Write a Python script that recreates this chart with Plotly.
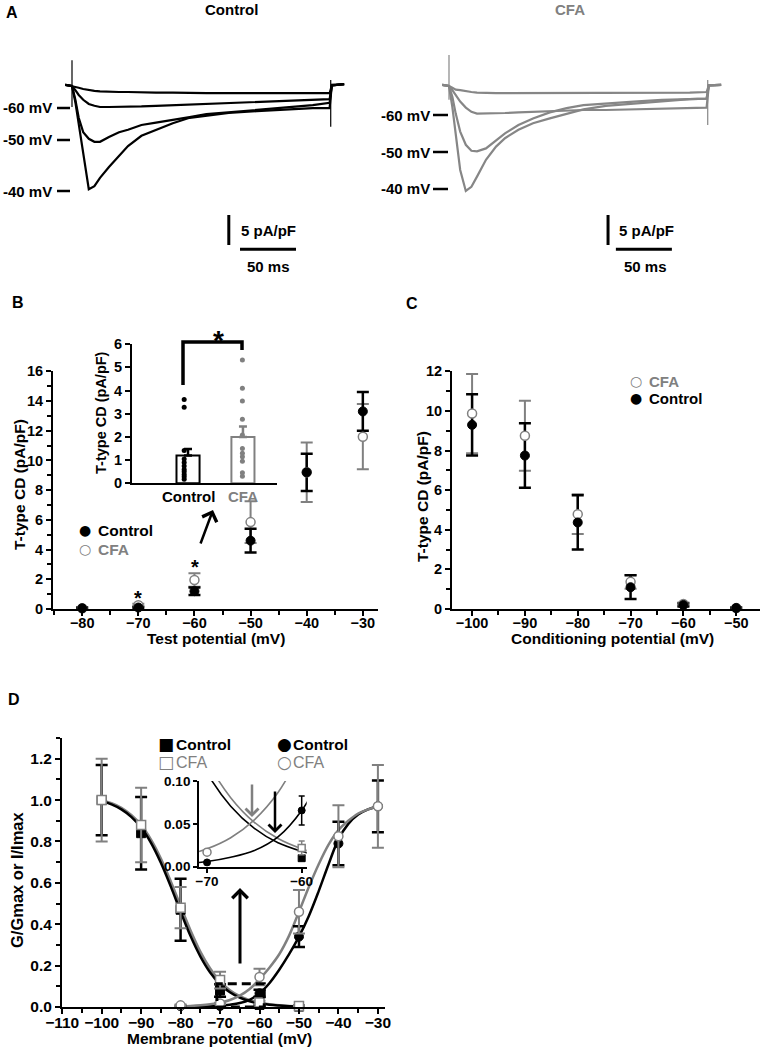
import plotly.graph_objects as go

W, H = 765, 1049
FONT = "Liberation Sans, Arial, Helvetica, sans-serif"
SYMBOL_FONT = "DejaVu Sans"
GREY = "#808080"
TRACE_GREY = "#868686"

# ---------------- A: example T-type current traces ----------------
# time from step onset (ms), current density (pA/pF)
trace_t = [-6, 0, 3, 6, 10, 15, 20, 25, 33, 42, 50, 62, 75, 90, 105, 120, 140, 165, 190, 215, 230, 232, 243]
ctl_m70 = [0.2, 0, -0.2, -0.3, -0.5, -0.7, -0.8, -0.9, -1.0, -1.0, -1.0, -1.1, -1.1, -1.1, -1.2, -1.2, -1.2, -1.2, -1.2, -1.2, -1.2, 0.1, 0.3]
ctl_m60 = [0.2, 0, -0.7, -1.5, -2.3, -3.0, -3.3, -3.5, -3.5, -3.5, -3.5, -3.4, -3.3, -3.2, -3.1, -3.0, -2.8, -2.7, -2.5, -2.3, -2.2, 0.1, 0.3]
ctl_m50 = [0.2, 0, -2.3, -5.3, -7.7, -8.8, -9.3, -9.3, -8.5, -7.7, -7.3, -6.5, -6.1, -5.7, -5.2, -4.7, -4.4, -4.0, -3.7, -3.2, -2.8, 0.1, 0.3]
ctl_m40 = [0.2, 0, -2.7, -6.5, -11.7, -17.2, -16.7, -15.3, -13.5, -11.7, -10.0, -8.3, -7.3, -6.2, -5.3, -5.0, -4.5, -4.2, -3.9, -3.7, -3.7, 0.2, 0.3]
cfa_m70 = [0.2, 0, -0.3, -0.6, -0.7, -0.9, -1.0, -1.1, -1.2, -1.2, -1.2, -1.2, -1.2, -1.2, -1.2, -1.2, -1.2, -1.2, -1.1, -1.1, -1.0, 0.1, 0.2]
cfa_m60 = [0.2, 0, -0.7, -1.5, -2.6, -3.6, -4.3, -4.6, -4.6, -4.6, -4.5, -4.4, -4.3, -4.2, -4.1, -4.0, -4.0, -3.9, -3.8, -3.7, -3.6, 0.1, 0.2]
cfa_m50 = [0.2, 0, -1.8, -4.6, -7.6, -9.8, -10.8, -10.9, -10.4, -9.1, -7.9, -6.5, -5.4, -4.4, -3.7, -3.2, -2.9, -2.6, -2.3, -2.2, -2.1, 0.1, 0.2]
cfa_m40 = [0.2, 0, -3.5, -7.9, -14.0, -17.5, -16.8, -15.1, -12.3, -10.1, -8.7, -7.3, -6.2, -5.4, -4.6, -3.9, -3.3, -2.9, -2.5, -2.2, -2.1, 0.1, 0.2]
# capacitive artefacts at step on / off
ctl_art_t = [0, 0, None, 231, 231]
ctl_art_i = [4.3, -3.5, None, 1.0, -6.8]
cfa_art_t = [0, 0, None, 231, 231]
cfa_art_i = [5.3, -2.3, None, 1.0, -6.5]

# ---------------- B: current density vs test potential ----------------
test_mv = [-80, -70, -60, -50, -40, -30]
b_ctl = [0.05, 0.1, 1.2, 4.6, 9.2, 13.3]
b_ctl_err = [0.05, 0.05, 0.25, 0.8, 1.25, 1.3]
b_cfa = [0.05, 0.25, 1.95, 5.85, 9.2, 11.6]
b_cfa_err = [0.05, 0.1, 0.45, 1.4, 2.0, 2.2]

# B inset: -60 mV, individual cells
inset_mean = [1.2, 2.0]
inset_sem = [0.28, 0.45]
inset_ctl_cells = [3.62, 3.28, 1.41, 1.05, 0.9, 0.75, 0.6, 0.5, 0.38, 0.28, 0.18]
inset_cfa_cells = [5.32, 4.1, 3.55, 2.76, 2.08, 1.5, 1.3, 1.15, 0.95, 0.46, 0.3]

# ---------------- C: current density vs conditioning potential ----------------
cond_mv = [-100, -90, -80, -70, -60, -50]
c_ctl = [9.3, 7.75, 4.37, 1.1, 0.2, 0.05]
c_ctl_err = [1.55, 1.63, 1.37, 0.6, 0.08, 0.03]
c_cfa = [9.87, 8.75, 4.79, 1.37, 0.25, 0.05]
c_cfa_err = [2.0, 1.77, 1.0, 0.35, 0.08, 0.03]

# ---------------- D: inactivation (I/Imax) and activation (G/Gmax) ----------------
inact_mv = [-100, -90, -80, -70, -60, -50]
inact_ctl = [1.0, 0.84, 0.47, 0.08, 0.01, 0.002]
inact_ctl_err = [0.17, 0.175, 0.15, 0.03, 0.005, 0.002]
inact_cfa = [1.0, 0.88, 0.48, 0.13, 0.022, 0.005]
inact_cfa_err = [0.2, 0.18, 0.1, 0.04, 0.008, 0.005]

act_mv = [-80, -70, -60, -50, -40, -30]
act_ctl = [0.004, 0.005, 0.066, 0.34, 0.79, 0.97]
act_ctl_err = [0.002, 0.002, 0.017, 0.05, 0.105, 0.125]
act_cfa = [0.008, 0.017, 0.145, 0.46, 0.825, 0.97]
act_cfa_err = [0.004, 0.004, 0.04, 0.105, 0.15, 0.2]

# Boltzmann fit curves
fit_inact_mv = [-100, -97.5, -95, -92.5, -90, -87.5, -85, -82.5, -80, -77.5, -75,
                -72.5, -70, -67.5, -65, -62.5, -60, -57.5, -55, -52.5, -50]
fit_inact_ctl = [0.995, 0.979, 0.955, 0.919, 0.867, 0.793, 0.697, 0.583, 0.461, 0.344, 0.245,
                 0.167, 0.110, 0.071, 0.045, 0.028, 0.018, 0.011, 0.007, 0.004, 0.003]
fit_inact_cfa = [1.0, 0.985, 0.963, 0.928, 0.879, 0.809, 0.718, 0.608, 0.488, 0.371, 0.268,
                 0.186, 0.124, 0.081, 0.052, 0.033, 0.021, 0.013, 0.008, 0.005, 0.003]
fit_act_mv = [-80, -77.5, -75, -72.5, -70, -67.5, -65, -62.5, -60, -57.5, -55,
              -52.5, -50, -47.5, -45, -42.5, -40, -37.5, -35, -32.5, -30]
fit_act_ctl = [0.0005, 0.001, 0.002, 0.0035, 0.006, 0.011, 0.019, 0.035, 0.066, 0.115, 0.18,
               0.255, 0.34, 0.44, 0.56, 0.69, 0.81, 0.885, 0.93, 0.955, 0.97]
fit_act_cfa = [0.003, 0.005, 0.008, 0.013, 0.021, 0.034, 0.055, 0.087, 0.135, 0.19, 0.255,
               0.345, 0.46, 0.58, 0.69, 0.785, 0.855, 0.9, 0.935, 0.955, 0.97]


def px(x):
    return x / W


def py(y):
    return 1 - y / H


def note(text, x, y, size=15, color="black", bold=True, xanchor="center", angle=0, family=FONT):
    return dict(text=text, x=px(x), y=py(y), xref="paper", yref="paper", showarrow=False,
                xanchor=xanchor, yanchor="middle", textangle=angle, borderpad=0,
                font=dict(family=family, size=size, color=color, weight="bold" if bold else "normal"))


def arrow(x, y, ax, ay, color="black", width=2.5, head=4, hsize=1.0):
    return dict(text="", x=px(x), y=py(y), xref="paper", yref="paper", showarrow=True,
                ax=ax, ay=ay, arrowcolor=color, arrowwidth=width, arrowhead=head,
                arrowsize=hsize, standoff=0)


def hidden_axis(domain, rng):
    return dict(domain=domain, range=rng, visible=False, fixedrange=True)


def data_axis(domain, rng, anchor, tick0=None, dtick=None, minor=None, size=14, lw=2, **kw):
    ax = dict(domain=domain, range=rng, anchor=anchor, showline=True, linecolor="black",
              linewidth=lw, ticks="outside", ticklen=5, tickwidth=lw, tickcolor="black",
              tickfont=dict(family=FONT, size=size, color="black", weight="bold"),
              showgrid=False, zeroline=False, fixedrange=True, automargin=False)
    if dtick is not None:
        ax.update(tickmode="linear", tick0=tick0, dtick=dtick)
    if minor is not None:
        ax["minor"] = dict(dtick=minor, ticks="outside", ticklen=4, tickwidth=lw,
                           tickcolor="black", showgrid=False)
    ax.update(kw)
    return ax


fig = go.Figure()

# ---- A traces ----
for ys in [ctl_m70, ctl_m60, ctl_m50, ctl_m40]:
    fig.add_trace(go.Scatter(x=trace_t, y=ys, mode="lines", xaxis="x", yaxis="y",
                             line=dict(color="black", width=2.2)))
fig.add_trace(go.Scatter(x=ctl_art_t, y=ctl_art_i, mode="lines", xaxis="x", yaxis="y",
                         line=dict(color="black", width=1.2)))
for ys in [cfa_m70, cfa_m60, cfa_m50, cfa_m40]:
    fig.add_trace(go.Scatter(x=trace_t, y=ys, mode="lines", xaxis="x2", yaxis="y2",
                             line=dict(color=TRACE_GREY, width=2.2)))
fig.add_trace(go.Scatter(x=cfa_art_t, y=cfa_art_i, mode="lines", xaxis="x2", yaxis="y2",
                         line=dict(color=TRACE_GREY, width=1.2)))


def points(x, y, err, filled, xa, ya, size=9, cap=6, clip=False, show_err=True,
           show_marker=True, symbol="circle", thick=None):
    color = "black" if filled else GREY
    marker = dict(size=size, symbol=symbol, color=color if filled else "white",
                  line=dict(color=color, width=1.5 if not filled else 1),
                  opacity=1 if show_marker else 0)
    if thick is None:
        thick = 2.5 if filled else 2
    return go.Scatter(x=x, y=y, mode="markers", xaxis=xa, yaxis=ya, cliponaxis=clip,
                      marker=marker,
                      error_y=dict(type="data", array=err, color=color,
                                   thickness=thick, width=cap, visible=show_err))


def layered(x, y_cfa, e_cfa, y_ctl, e_ctl, xa, ya):
    # error bars underneath, open CFA circles, filled control circles on top
    return [
        points(x, y_cfa, e_cfa, False, xa, ya, show_marker=False),
        points(x, y_ctl, e_ctl, True, xa, ya, show_marker=False),
        points(x, y_cfa, e_cfa, False, xa, ya, show_err=False),
        points(x, y_ctl, e_ctl, True, xa, ya, show_err=False),
    ]


# ---- B ----
fig.add_traces(layered(test_mv, b_cfa, b_cfa_err, b_ctl, b_ctl_err, "x3", "y3"))

# B inset bars
fig.add_trace(go.Bar(x=[1], y=[inset_mean[0]], width=0.42, xaxis="x4", yaxis="y4",
                     marker=dict(color="white", line=dict(color="black", width=2)),
                     error_y=dict(type="data", symmetric=False, array=[inset_sem[0]],
                                  arrayminus=[0], color="black", thickness=2.5, width=4)))
fig.add_trace(go.Bar(x=[2], y=[inset_mean[1]], width=0.42, xaxis="x4", yaxis="y4",
                     marker=dict(color="white", line=dict(color=GREY, width=2)),
                     error_y=dict(type="data", symmetric=False, array=[inset_sem[1]],
                                  arrayminus=[0], color=GREY, thickness=2.5, width=4)))
fig.add_trace(go.Scatter(x=[0.93] * len(inset_ctl_cells), y=inset_ctl_cells, mode="markers",
                         xaxis="x4", yaxis="y4", cliponaxis=False,
                         marker=dict(size=5, color="black")))
fig.add_trace(go.Scatter(x=[1.99] * len(inset_cfa_cells), y=inset_cfa_cells, mode="markers",
                         xaxis="x4", yaxis="y4", cliponaxis=False,
                         marker=dict(size=5, color=GREY)))

# ---- C ----
fig.add_traces(layered(cond_mv, c_cfa, c_cfa_err, c_ctl, c_ctl_err, "x5", "y5"))

# ---- D main + inset ----
for xa, ya, lw in [("x6", "y6", 2.5), ("x7", "y7", 1.6)]:
    fig.add_trace(go.Scatter(x=fit_inact_mv, y=fit_inact_cfa, mode="lines", xaxis=xa, yaxis=ya,
                             line=dict(color=GREY, width=lw, shape="spline")))
    fig.add_trace(go.Scatter(x=fit_inact_mv, y=fit_inact_ctl, mode="lines", xaxis=xa, yaxis=ya,
                             line=dict(color="black", width=lw, shape="spline")))
    fig.add_trace(go.Scatter(x=fit_act_mv, y=fit_act_ctl, mode="lines", xaxis=xa, yaxis=ya,
                             line=dict(color="black", width=lw, shape="spline")))
    fig.add_trace(go.Scatter(x=fit_act_mv, y=fit_act_cfa, mode="lines", xaxis=xa, yaxis=ya,
                             line=dict(color=GREY, width=lw, shape="spline")))

fig.add_traces([
    points(inact_mv, inact_ctl, inact_ctl_err, True, "x6", "y6", symbol="square"),
    points(act_mv, act_ctl, act_ctl_err, True, "x6", "y6"),
    points(inact_mv, inact_cfa, inact_cfa_err, False, "x6", "y6", symbol="square"),
    points(act_mv, act_cfa, act_cfa_err, False, "x6", "y6"),
])
# inset shows only the points around the window (-70 / -60 mV)
fig.add_traces([
    points(inact_mv[4:5], inact_ctl[4:5], inact_ctl_err[4:5], True, "x7", "y7", 7, 3, True,
           show_err=False, symbol="square"),
    points(act_mv[1:3], act_ctl[1:3], act_ctl_err[1:3], True, "x7", "y7", 7, 3, True, thick=1.5),
    points(inact_mv[4:5], inact_cfa[4:5], inact_cfa_err[4:5], False, "x7", "y7", 7, 3, True,
           symbol="square", thick=1.5),
    points(act_mv[1:2], act_cfa[1:2], act_cfa_err[1:2], False, "x7", "y7", 8, 3, True,
           show_err=False),
])

# ---------------- layout ----------------
a_y = [(86 - 280) / 6, (86 - 55) / 6]
xtick_pull = -5
layout_axes = dict(
    xaxis=hidden_axis([px(40), px(360)], [(40 - 72) / 1.12, (360 - 72) / 1.12]),
    yaxis=hidden_axis([py(280), py(55)], a_y),
    xaxis2=hidden_axis([px(415), px(740)], [(415 - 449) / 1.12, (740 - 449) / 1.12]),
    yaxis2=hidden_axis([py(280), py(55)], a_y),
    xaxis3=data_axis([px(53), px(378)], [-85.2, -27.3], "y3", -80, 10, 5, 14.5,
                     ticklabelstandoff=xtick_pull),
    yaxis3=data_axis([py(609), py(371)], [0, 16.02], "x3", 0, 2, 1, 14.5),
    xaxis4=data_axis([px(132), px(277)], [-0.02, 2.62], "y4", ticks="", showticklabels=False),
    yaxis4=data_axis([py(483.3), py(344)], [0, 6.01], "x4", 0, 1, None, 14.5),
    xaxis5=data_axis([px(452), px(760)], [-103.8, -45.5], "y5", -100, 10, 5, 14.5,
                     ticklabelstandoff=xtick_pull),
    yaxis5=data_axis([py(609), py(371)], [0, 12.02], "x5", 0, 2, 1, 14.5),
    xaxis6=data_axis([px(62), px(385)], [-110.05, -28.2], "y6", -110, 10, 5, 15.5,
                     ticklabelstandoff=xtick_pull),
    yaxis6=data_axis([py(1007), py(738)], [0, 1.3], "x6", 0, 0.2, 0.1, 15.5, tickformat=".1f"),
    xaxis7=data_axis([px(199), px(306.7)], [-70.85, -59.47], "y7", size=13.5, lw=1.8,
                     tickmode="array", tickvals=[-70, -60], ticklen=4, ticklabelstandoff=-3),
    yaxis7=data_axis([py(866.7), py(781)], [0, 0.1005], "x7", size=13.5, lw=1.8,
                     tickmode="array", tickvals=[0, 0.05, 0.1],
                     ticktext=["0.00", "0.05", "0.10"], ticklen=4),
)

annotations = [
    # A
    note("A", 12, 13, 16),
    note("Control", 231, 9, 15),
    note("CFA", 570, 10, 15, GREY),
    note("5 pA/pF", 240, 230, 15, xanchor="left"),
    note("50 ms", 268, 267, 15),
    note("5 pA/pF", 618, 230, 15, xanchor="left"),
    note("50 ms", 645, 267, 15),
    # B
    note("B", 18, 302, 16),
    note("T-type CD (pA/pF)", 19, 485, 15.5, angle=-90),
    note("Test potential (mV)", 216, 638, 15.5),
    note("*", 138, 598, 20),
    note("*", 195, 567, 20),
    note("●", 85, 530, 14, family=SYMBOL_FONT, bold=False),
    note("Control", 97, 530, 15.5, xanchor="left"),
    note("○", 85, 549, 14, GREY, family=SYMBOL_FONT, bold=False),
    note("CFA", 97, 549, 15.5, GREY, xanchor="left"),
    note("T-type CD (pA/pF)", 101, 413, 14.5, angle=-90),
    note("Control", 188, 496, 15),
    note("CFA", 243, 496, 15, GREY),
    note("*", 218, 340, 28),
    arrow(213, 510, -13, 35, width=2.5, head=4, hsize=1.2),
    # C
    note("C", 412, 303, 16),
    note("T-type CD (pA/pF)", 422, 497, 15.5, angle=-90),
    note("Conditioning potential (mV)", 612, 638, 15.5),
    note("○", 635.5, 381, 14, GREY, family=SYMBOL_FONT, bold=False),
    note("CFA", 648, 381, 15, GREY, xanchor="left"),
    note("●", 635.5, 398, 14, family=SYMBOL_FONT, bold=False),
    note("Control", 648, 398, 15, xanchor="left"),
    # D
    note("D", 14, 699, 16),
    note("G/Gmax or I/Imax", 17, 880, 16.5, angle=-90),
    note("Membrane potential (mV)", 220, 1038, 15.5),
    note("■", 166, 744, 17, family=SYMBOL_FONT, bold=False),
    note("Control", 175, 744, 15.5, xanchor="left"),
    note("□", 166, 762, 17, GREY, family=SYMBOL_FONT, bold=False),
    note("CFA", 175, 762, 16, GREY, bold=False, xanchor="left"),
    note("●", 284, 744, 17, family=SYMBOL_FONT, bold=False),
    note("Control", 292, 744, 15.5, xanchor="left"),
    note("○", 284, 762, 17, GREY, family=SYMBOL_FONT, bold=False),
    note("CFA", 292, 762, 16, GREY, bold=False, xanchor="left"),
    arrow(240, 888, 0, 77, width=3, head=4, hsize=1.0),
    arrow(252, 817, 0, -34, color=GREY, width=2.5, head=4, hsize=1.0),
    arrow(275, 833, 0, -43, width=2.5, head=4, hsize=1.0),
]

# voltage labels next to the traces in A
for lbl, y in [("-60 mV", 108), ("-50 mV", 140), ("-40 mV", 191)]:
    annotations.append(note(lbl, 53, y, 15, xanchor="right"))
for lbl, y in [("-60 mV", 115), ("-50 mV", 152), ("-40 mV", 189)]:
    annotations.append(note(lbl, 431, y, 15, xanchor="right"))


def pline(x0, y0, x1, y1, width=2.5, color="black"):
    return dict(type="line", xref="paper", yref="paper", x0=px(x0), y0=py(y0), x1=px(x1), y1=py(y1),
                line=dict(color=color, width=width))


shapes = [pline(57, y, 70, y) for y in (108, 140, 191)]
shapes += [pline(433, y, 448, y) for y in (115, 152, 189)]
# scale bars: 5 pA/pF and 50 ms in trace units
shapes += [
    dict(type="line", xref="x", yref="y", x0=140, x1=140, y0=-21.5, y1=-26.5, line=dict(color="black", width=3)),
    dict(type="line", xref="x", yref="y", x0=150, x1=200, y0=-27.2, y1=-27.2, line=dict(color="black", width=3)),
    dict(type="line", xref="x2", yref="y2", x0=142, x1=142, y0=-21.5, y1=-26.5, line=dict(color="black", width=3)),
    dict(type="line", xref="x2", yref="y2", x0=149, x1=199, y0=-27.2, y1=-27.2, line=dict(color="black", width=3)),
]
# significance bracket of B inset
shapes.append(dict(type="path", xref="paper", yref="paper",
                   path=f"M{px(183)},{py(385)} L{px(183)},{py(342)} L{px(242)},{py(342)} L{px(242)},{py(350)}",
                   line=dict(color="black", width=3.5)))
# dashed box in D marking the inset window
shapes.append(dict(type="rect", xref="x6", yref="y6", x0=-70.8, x1=-58.8, y0=0, y1=0.112,
                   line=dict(color="black", width=3, dash="9px,5px")))

fig.update_layout(
    width=W, height=H, autosize=False,
    margin=dict(l=0, r=0, t=0, b=0, pad=0, autoexpand=False),
    paper_bgcolor="white", plot_bgcolor="rgba(0,0,0,0)",
    showlegend=False, barmode="overlay",
    font=dict(family=FONT, color="black"),
    annotations=annotations, shapes=shapes,
    **layout_axes,
)

# the page body has a default 8px margin; drop it so the figure sits at the window origin
fig.write_html("out.html", config={"displayModeBar": False},
               post_script="document.body.style.margin='0px';")
